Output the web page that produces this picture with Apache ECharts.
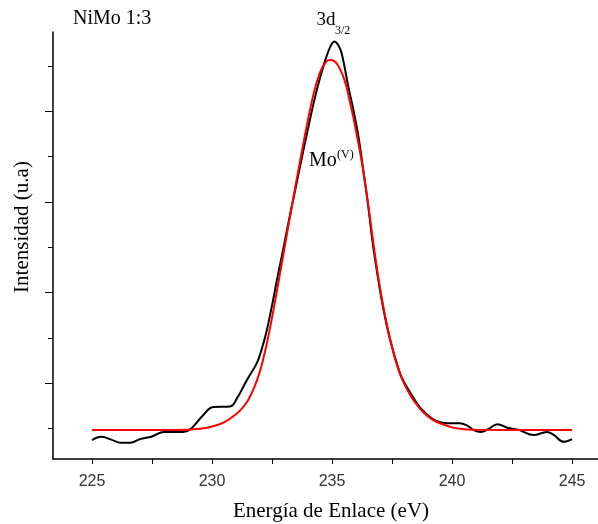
<!DOCTYPE html>
<html><head><meta charset="utf-8">
<script src="https://cdn.jsdelivr.net/npm/echarts@6/dist/echarts.min.js"></script>
<style>html,body{margin:0;padding:0;background:#fff}#c{width:598px;height:524px}</style>
</head><body><div id="c"></div>
<script>
// Binding energy (eV) tick positions and labels
const xTickValues = [225, 227.5, 230, 232.5, 235, 237.5, 240, 242.5, 245];
const xLabelValues = [225, 230, 235, 240, 245];
// Intensity ticks (arbitrary units, no labels)
const yMajorTicks = [2, 4, 6, 8];
const yMinorTicks = [1, 3, 5, 7, 9];

// Experimental spectrum (black): [energy, intensity]
const experimental = [
  [225.0, 0.75], [225.4, 0.82], [225.8, 0.76], [226.2, 0.69], [226.6, 0.69],
  [227.0, 0.77], [227.5, 0.83], [228.0, 0.93], [228.8, 0.93], [229.1, 0.99],
  [229.6, 1.28], [230.05, 1.48], [230.75, 1.49], [231.05, 1.68], [231.45, 2.07],
  [231.86, 2.44], [232.05, 2.72], [232.25, 3.1], [232.5, 3.72], [232.75, 4.4],
  [233.0, 5.05], [233.25, 5.72], [233.5, 6.35], [233.75, 7.0], [234.0, 7.62],
  [234.25, 8.22], [234.5, 8.74], [234.75, 9.18], [234.95, 9.45], [235.1, 9.54],
  [235.25, 9.47], [235.4, 9.28], [235.68, 8.54], [235.89, 8.03], [236.1, 7.44],
  [236.3, 6.71], [236.51, 5.9], [236.72, 5.0], [237.07, 3.84], [237.42, 2.96],
  [237.83, 2.22], [238.05, 1.98], [238.3, 1.76], [238.55, 1.55], [238.8, 1.39],
  [239.1, 1.25], [239.4, 1.16], [239.8, 1.12], [240.3, 1.12], [240.6, 1.08],
  [240.9, 0.97], [241.2, 0.93], [241.5, 0.99], [241.9, 1.10], [242.3, 1.02],
  [242.8, 0.97], [243.4, 0.86], [243.95, 0.93], [244.25, 0.86], [244.65, 0.71],
  [245.0, 0.77]
];

// Fitted Mo(V) component (red): [energy, intensity]
const fitMoV = [
  [225.0, 0.97], [228.5, 0.97], [229.5, 1.0], [230.0, 1.05], [230.5, 1.14],
  [231.0, 1.32], [231.25, 1.45], [231.5, 1.63], [231.75, 1.90], [232.0, 2.27],
  [232.25, 2.80], [232.5, 3.45], [232.75, 4.18], [233.0, 4.93], [233.25, 5.68],
  [233.5, 6.42], [233.75, 7.13], [234.0, 7.82], [234.25, 8.42], [234.5, 8.86],
  [234.75, 9.09], [234.95, 9.13], [235.2, 9.05], [235.5, 8.72], [235.75, 8.2],
  [236.0, 7.57], [236.25, 6.85], [236.5, 5.97], [236.75, 4.98], [237.0, 4.1],
  [237.25, 3.38], [237.5, 2.8], [237.75, 2.33], [238.0, 2.0], [238.25, 1.75],
  [238.5, 1.55], [238.75, 1.39], [239.0, 1.27], [239.25, 1.18], [239.5, 1.12],
  [240.0, 1.03], [240.5, 0.99], [241.0, 0.975], [245.0, 0.97]
];

const serif = 'Liberation Serif';
const chart = echarts.init(document.getElementById('c'), null, {renderer: 'canvas'});
const yMin = 0.332, yMax = 9.75;
chart.setOption({
  animation: false,
  grid: {left: 53, top: 32, right: 0, bottom: 65, containLabel: false},
  xAxis: {
    type: 'value', min: 223.375, max: 246.08,
    axisLine: {onZero: false, lineStyle: {color: '#000', width: 1.5}},
    axisTick: {show: true, length: 5, inside: false, customValues: xTickValues, lineStyle: {color: '#000', width: 1}},
    axisLabel: {customValues: xLabelValues, margin: 15, fontSize: 16, color: '#333', fontFamily: 'Liberation Sans'},
    splitLine: {show: false}
  },
  yAxis: [{
    type: 'value', min: yMin, max: yMax, position: 'left',
    axisLine: {show: true, lineStyle: {color: '#000', width: 1.5}},
    axisTick: {show: true, length: 8, customValues: yMajorTicks, lineStyle: {color: '#000', width: 1}},
    axisLabel: {show: false},
    splitLine: {show: false}
  }, {
    type: 'value', min: yMin, max: yMax, position: 'left', offset: 0,
    axisLine: {show: false},
    axisTick: {show: true, length: 5, customValues: yMinorTicks, lineStyle: {color: '#000', width: 1}},
    axisLabel: {show: false},
    splitLine: {show: false}
  }],
  series: [{
    type: 'line', data: experimental, showSymbol: false, smooth: 0.4,
    lineStyle: {color: '#000', width: 2}, itemStyle: {color: '#000'}, z: 2
  }, {
    type: 'line', data: fitMoV, showSymbol: false, smooth: 0.4,
    lineStyle: {color: '#ff0000', width: 2}, itemStyle: {color: '#ff0000'}, z: 3
  }],
  graphic: [
    {type: 'text', x: 73, y: 19, style: {text: 'NiMo 1:3', font: '20px ' + serif, fill: '#000', align: 'left', verticalAlign: 'middle'}},
    {type: 'text', x: 316.5, y: 20.5, style: {text: '3d', font: '19px ' + serif, fill: '#000', align: 'left', verticalAlign: 'middle'}},
    {type: 'text', x: 335, y: 30.5, style: {text: '3/2', font: '12px ' + serif, fill: '#000', align: 'left', verticalAlign: 'middle'}},
    {type: 'text', x: 309, y: 161, style: {text: 'Mo', font: '20px ' + serif, fill: '#000', align: 'left', verticalAlign: 'middle'}},
    {type: 'text', x: 337, y: 155, style: {text: '(V)', font: '12px ' + serif, fill: '#000', align: 'left', verticalAlign: 'middle'}},
    {type: 'text', x: 331, y: 511.5, style: {text: 'Energía de Enlace (eV)', font: '21px ' + serif, fill: '#000', align: 'center', verticalAlign: 'middle'}},
    {type: 'text', x: 22, y: 227, rotation: Math.PI / 2, style: {text: 'Intensidad (u.a)', font: '21px ' + serif, fill: '#000', align: 'center', verticalAlign: 'middle'}}
  ]
});
</script>
</body></html>
